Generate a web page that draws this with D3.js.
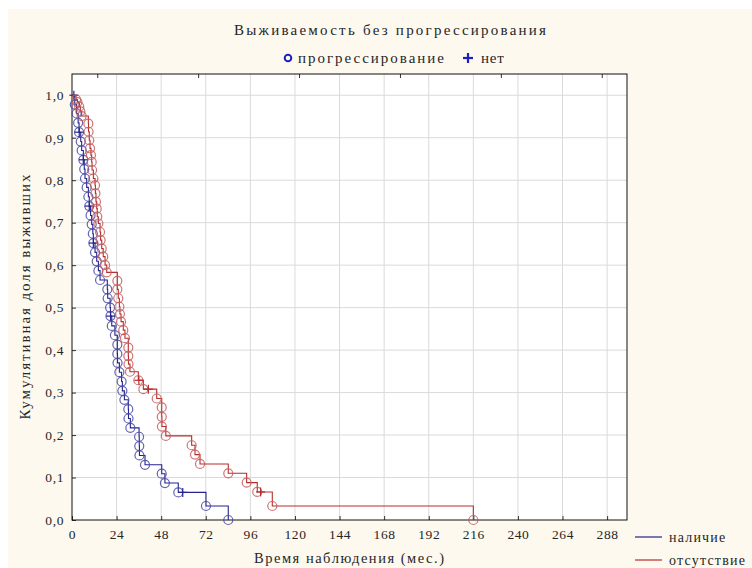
<!DOCTYPE html>
<html><head><meta charset="utf-8">
<script src="https://cdn.jsdelivr.net/npm/d3@7"></script>
<style>
html,body{margin:0;padding:0;background:#fff;}
svg text{font-family:"Liberation Serif","DejaVu Serif",serif;fill:#262626;}
</style></head>
<body>
<svg id="c" width="752" height="568"></svg>
<script>
// ---- data ----
const title = "Выживаемость без прогрессирования";
const markerLegend = ["прогрессирование", "нет"];
const groups = ["наличие", "отсутствие"];
const xTicks = [0,24,48,72,96,120,144,168,192,216,240,264,288];
const yTicks = [0,0.1,0.2,0.3,0.4,0.5,0.6,0.7,0.8,0.9,1.0];
const xTitle = "Время наблюдения (мес.)";
const yTitle = "Кумулятивная доля выживших";

// group 1 (blue) : event times and survival after each event
const blueT = [1.5,2.5,3.3,3.8,4.7,5.2,6.1,6.6,7.0,7.9,8.8,9.3,10.0,10.6,11.2,11.5,12.4,13.3,14.2,15.1,19.0,19.2,20.5,20.7,21.4,23.1,24.4,24.4,24.5,25.5,26.7,27.1,28.2,30.3,30.4,31.4,36.1,36.2,36.3,39.3,48.3,50.0,57.2,72.1,84.1];
const blueS = [0.978,0.957,0.935,0.913,0.891,0.870,0.848,0.826,0.804,0.783,0.761,0.739,0.717,0.696,0.674,0.652,0.630,0.609,0.587,0.565,0.543,0.522,0.500,0.480,0.457,0.435,0.413,0.391,0.370,0.348,0.326,0.304,0.283,0.261,0.239,0.217,0.196,0.174,0.152,0.130,0.109,0.087,0.065,0.033,0];
const blueCens = [1.0,3.9,6.1,9.3,11.5,20.8,59.6];

// group 2 (red)
const redT = [2.2,2.9,3.9,4.5,5.2,8.8,8.9,9.3,9.7,10.2,10.6,10.8,11.5,12.4,12.6,12.9,13.3,13.6,14.2,15.1,15.4,16.0,16.8,17.8,18.7,24.4,24.4,24.9,25.5,25.8,26.4,27.6,28.5,30.3,30.3,30.4,31.2,35.7,38.4,45.6,48.3,48.3,48.4,50.5,64.4,66.2,68.9,84.1,94.0,99.7,107.8,216];
const redS = [0.990,0.984,0.973,0.962,0.951,0.933,0.914,0.894,0.875,0.859,0.843,0.824,0.804,0.788,0.769,0.749,0.733,0.714,0.698,0.678,0.659,0.639,0.620,0.600,0.583,0.563,0.543,0.522,0.502,0.485,0.467,0.447,0.428,0.406,0.386,0.367,0.349,0.329,0.308,0.286,0.265,0.243,0.220,0.198,0.176,0.154,0.132,0.110,0.088,0.066,0.033,0];
const redCens = [36.0,41.1,101.5];

const topTicks = [0.25,1.25,2.25,3.25,4.25,5.25];

// ---- layout ----
const svg = d3.select("#c");
const L = 72, R = 627, T = 74, B = 520;
const x = d3.scaleLinear().domain([0, 298.7]).range([L, R]);
const y = d3.scaleLinear().domain([0, 1.05]).range([B, T]);
const xTop = d3.scaleLinear().domain([0, 5.5]).range([L, R]);

const BLUE = "#24248c", RED = "#b52d2d";
const BLUEC = "#4848a4", REDC = "#c45c5c";

svg.append("rect").attr("x", 8).attr("y", 9).attr("width", 744).attr("height", 559).attr("fill", "#fdf9ef");
svg.append("rect").attr("x", L).attr("y", T).attr("width", R - L).attr("height", B - T).attr("fill", "#fff");

// grid
svg.append("g").selectAll("line").data(xTicks.slice(1)).join("line")
  .attr("x1", d => x(d)).attr("x2", d => x(d)).attr("y1", T).attr("y2", B)
  .attr("stroke", "#dadada").attr("stroke-width", 1);
svg.append("g").selectAll("line").data(yTicks.slice(1)).join("line")
  .attr("x1", L).attr("x2", R).attr("y1", d => y(d)).attr("y2", d => y(d))
  .attr("stroke", "#dadada").attr("stroke-width", 1);

// axes
const fmt = d => d3.format(".1f")(d).replace(".", ",");
const gx = svg.append("g").attr("transform", `translate(0,${B})`)
  .call(d3.axisBottom(x).tickValues(xTicks).tickSize(-4).tickPadding(9));
gx.select(".domain").remove();
gx.selectAll("text").attr("font-size", 13.5).attr("letter-spacing", 0.6).attr("font-family", "Liberation Serif");
gx.selectAll("line").attr("stroke", "#333");
const gy = svg.append("g").attr("transform", `translate(${L},0)`)
  .call(d3.axisLeft(y).tickValues(yTicks).tickFormat(fmt).tickSize(-4).tickPadding(8));
gy.select(".domain").remove();
gy.selectAll("text").attr("font-size", 13.5).attr("letter-spacing", 0.6).attr("font-family", "Liberation Serif");
gy.selectAll("line").attr("stroke", "#333");
const gt = svg.append("g").attr("transform", `translate(0,${T})`)
  .call(d3.axisTop(xTop).tickValues(topTicks).tickSize(-4).tickFormat(""));
gt.select(".domain").remove();
gt.selectAll("line").attr("stroke", "#333");

svg.append("rect").attr("x", L).attr("y", T).attr("width", R - L).attr("height", B - T)
  .attr("fill", "none").attr("stroke", "#111").attr("stroke-width", 1);

// curves
function stepPts(ts, ss) {
  const pts = [[0, 1]];
  let prev = 1;
  ts.forEach((t, i) => { pts.push([t, prev]); pts.push([t, ss[i]]); prev = ss[i]; });
  return pts;
}
function survAt(ts, ss, t) {
  let s = 1;
  ts.forEach((tt, i) => { if (tt <= t) s = ss[i]; });
  return s;
}
const line = d3.line().x(d => x(d[0])).y(d => y(d[1]));
const series = [
  {t: blueT, s: blueS, c: blueCens, col: BLUE, cc: BLUEC},
  {t: redT, s: redS, c: redCens, col: RED, cc: REDC}
];
series.forEach(sr => {
  svg.append("path").attr("d", line(stepPts(sr.t, sr.s)))
    .attr("fill", "none").attr("stroke", sr.col).attr("stroke-width", 1.1);
  svg.append("g").selectAll("circle").data(sr.t.map((t, i) => [t, sr.s[i]])).join("circle")
    .attr("cx", d => x(d[0])).attr("cy", d => y(d[1])).attr("r", 4.5)
    .attr("fill", "none").attr("stroke", sr.cc).attr("stroke-width", 1.2).attr("stroke-opacity", 0.85);
  const cg = svg.append("g").selectAll("g").data(sr.c).join("g")
    .attr("transform", d => `translate(${x(d)},${y(survAt(sr.t, sr.s, d))})`);
  cg.append("line").attr("x1", -4.5).attr("x2", 4.5).attr("stroke", sr.col).attr("stroke-width", 1.2);
  cg.append("line").attr("y1", -4.5).attr("y2", 4.5).attr("stroke", sr.col).attr("stroke-width", 1.2);
});

// titles
svg.append("text").attr("x", 390).attr("y", 35).attr("text-anchor", "middle")
  .attr("font-size", 15).attr("textLength", 312).attr("lengthAdjust", "spacing").text(title);
svg.append("circle").attr("cx", 288).attr("cy", 58).attr("r", 3.3)
  .attr("fill", "none").attr("stroke", "#2020c0").attr("stroke-width", 2);
svg.append("text").attr("x", 298).attr("y", 63).attr("font-size", 15)
  .attr("textLength", 146).attr("lengthAdjust", "spacing").text(markerLegend[0]);
const plus = svg.append("g").attr("transform", "translate(468,58)");
plus.append("line").attr("x1", -5).attr("x2", 5).attr("stroke", "#2020c0").attr("stroke-width", 2.2);
plus.append("line").attr("y1", -5).attr("y2", 5).attr("stroke", "#2020c0").attr("stroke-width", 2.2);
svg.append("text").attr("x", 481).attr("y", 63).attr("font-size", 15)
  .attr("letter-spacing", 0.8).text(markerLegend[1]);

svg.append("text").attr("x", 349).attr("y", 563).attr("text-anchor", "middle")
  .attr("font-size", 14.5).attr("textLength", 190).attr("lengthAdjust", "spacing").text(xTitle);
svg.append("text").attr("transform", "translate(30,297) rotate(-90)").attr("text-anchor", "middle")
  .attr("font-size", 15).attr("textLength", 245).attr("lengthAdjust", "spacing").text(yTitle);

// group legend
const lg = svg.append("g").selectAll("g").data(groups).join("g")
  .attr("transform", (d, i) => `translate(635,${537 + i * 23})`);
lg.append("line").attr("x1", 0).attr("x2", 27).attr("stroke", (d, i) => i ? RED : BLUE).attr("stroke-width", 1.2);
lg.append("text").attr("x", 34).attr("y", 5).attr("font-size", 14).attr("letter-spacing", 1.2).text(d => d);
</script>
</body></html>
